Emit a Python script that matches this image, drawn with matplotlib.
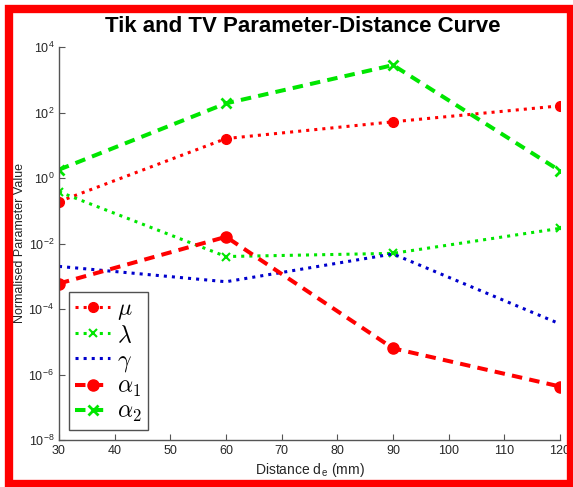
#!/usr/bin/env python3

import matplotlib
matplotlib.use("Agg")
import matplotlib.pyplot as plt
from matplotlib.patches import Rectangle
import numpy as np

# distances (mm)
distance = [30, 60, 90, 120]

# normalised parameter values
mu = [0.19, 16, 52, 160]
lam = [0.38, 0.004, 0.005, 0.029]
gamma = [0.002, 6.8e-4, 0.0048, 3.5e-5]
alpha1 = [6e-4, 0.016, 6.3e-6, 4.3e-7]
alpha2 = [1.8, 190, 2800, 1.66]

legend_labels = [r"$\mu$", r"$\lambda$", r"$\gamma$", r"$\alpha_1$", r"$\alpha_2$"]
yticks = [1e-8, 1e-6, 1e-4, 1e-2, 1e0, 1e2, 1e4]
xticks = np.arange(30, 121, 10)


def draw(filename):
    plt.rcParams['font.family'] = 'sans-serif'
    plt.rcParams['font.sans-serif'] = ['Liberation Sans', 'DejaVu Sans']
    plt.rcParams['mathtext.fontset'] = 'cm'

    fig = plt.figure(figsize=(5.73, 4.87), dpi=100)
    W, H = 573.0, 487.0
    ax = fig.add_axes([59 / W, 1 - 440 / H, 501 / W, 393 / H])

    red = '#ff0000'
    green = '#00e600'
    blue = '#0000cc'

    ax.plot(distance, mu, ':', color=red, linewidth=2.2, marker='o',
            markersize=7, label=legend_labels[0])
    ax.plot(distance, lam, ':', color=green, linewidth=2.2, marker='x',
            markersize=6, markeredgewidth=1.5, label=legend_labels[1])
    ax.plot(distance, gamma, ':', color=blue, linewidth=2.2,
            label=legend_labels[2])
    ax.plot(distance, alpha1, '--', color=red, linewidth=2.9, marker='o',
            markersize=8, dashes=(2.6, 1.8), label=legend_labels[3])
    ax.plot(distance, alpha2, '--', color=green, linewidth=2.9, marker='x',
            markersize=7, markeredgewidth=2, dashes=(2.6, 1.8),
            label=legend_labels[4])

    ax.set_yscale('log')
    ax.set_xlim(30, 120)
    ax.set_ylim(1e-8, 1e4)
    ax.set_yticks(yticks)
    ax.set_xticks(xticks)
    ax.yaxis.set_minor_locator(matplotlib.ticker.NullLocator())

    grey = '#262626'
    for side in ['top', 'right']:
        ax.spines[side].set_visible(False)
    for side in ['left', 'bottom']:
        ax.spines[side].set_color('#555555')
        ax.spines[side].set_linewidth(1.0)
    ax.tick_params(direction='in', length=4, width=0.8, colors='#555555',
                   labelcolor=grey, labelsize=9)

    ax.set_xlabel(r"Distance d$_\mathregular{e}$ (mm)", fontsize=10,
                  color=grey, labelpad=3)
    ax.set_ylabel("Normalised Parameter Value", fontsize=9, color=grey,
                  labelpad=2)

    fig.text(303 / W, 1 - 26 / H, "Tik and TV Parameter-Distance Curve",
             ha='center', va='center', fontsize=16, fontweight='bold')

    leg = ax.legend(loc='lower left', bbox_to_anchor=(0.02, 0.025),
                    fontsize=17, frameon=True, fancybox=False,
                    handlelength=1.5, handletextpad=0.3, labelspacing=0.1,
                    borderpad=0.25, borderaxespad=0.0)
    leg.get_frame().set_edgecolor(grey)
    leg.get_frame().set_linewidth(1.0)

    # red frame around the whole figure
    fig.patches.append(Rectangle((9 / W, 1 - 484 / H), 562 / W, 475 / H,
                                 transform=fig.transFigure, fill=False,
                                 edgecolor=red, linewidth=6, zorder=10))

    fig.savefig(filename, dpi=100)


if __name__ == "__main__":
    draw('out.png')
